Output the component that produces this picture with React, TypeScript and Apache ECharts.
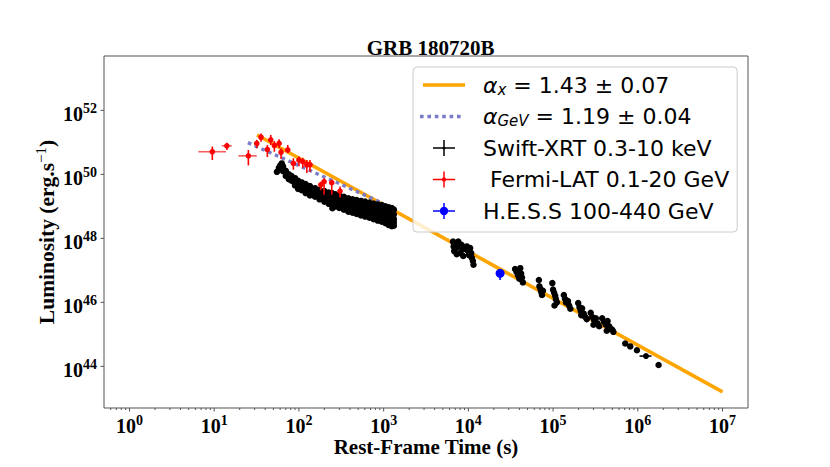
import React, { useEffect, useRef } from 'react';
import * as echarts from 'echarts';

// ---- axis ranges and ticks ----
const X_MIN = 0.5;
const X_MAX = 2e7;
const Y_MIN = 5e42;
const Y_MAX = 5e53;
const X_MAJOR_TICKS = [1, 10, 100, 1e3, 1e4, 1e5, 1e6, 1e7];
const X_MINOR_DECADES = [0.1, 1, 10, 100, 1e3, 1e4, 1e5, 1e6, 1e7];
const X_MINOR_SUBS = [2, 3, 4, 5, 6, 7, 8, 9];
const Y_MAJOR_TICKS = [1e44, 1e46, 1e48, 1e50, 1e52];

// ---- fitted power laws ----
const FIT_X = [[32, 1.7e51], [1e7, 1.6e43]];
const FIT_GEV = [[25, 9.8e50], [950, 1.3e49]];

// ---- Swift-XRT [t, L] ----
const XRT_EARLY = [
  [55, 1.2e50], [58, 1.6e50], [60, 1.9e50], [62.7, 2.2e50], [65, 1.8e50], [65, 1.26e50],
  [70, 1.3e50], [70, 8.9e49], [76, 1.0e50], [76, 7.1e49], [82, 8.9e49], [82, 6.3e49],
  [90, 7.6e49], [90, 5.2e49], [90, 4.5e49], [98, 6.3e49], [98, 4.5e49], [98, 3.5e49],
  [108, 5.6e49], [108, 4.0e49], [108, 3.2e49], [120, 5.0e49], [120, 3.5e49], [120, 2.6e49],
  [135, 4.3e49], [135, 3.0e49], [135, 2.2e49], [155, 3.7e49], [155, 2.6e49], [155, 2.0e49],
  [175, 3.3e49], [175, 2.3e49], [175, 1.66e49], [200, 3.0e49], [200, 2.0e49], [200, 1.4e49],
  [225, 2.7e49], [225, 1.8e49], [225, 1.2e49], [245, 2.6e49], [245, 1.6e49], [245, 1.1e49],
  [248, 8.7e48], [270, 2.4e49], [270, 1.5e49], [270, 1.0e49], [300, 2.2e49], [300, 1.4e49],
  [300, 8.9e48], [340, 2.0e49], [340, 1.26e49], [340, 7.9e48], [384, 1.8e49], [384, 1.12e49],
  [384, 6.8e48], [430, 1.66e49], [430, 1.0e49], [430, 6.3e48], [480, 1.58e49], [480, 9.5e48],
  [480, 5.8e48], [540, 1.48e49], [540, 8.9e48], [540, 5.2e48], [604, 1.41e49], [604, 8.3e48],
  [604, 4.8e48], [680, 1.32e49], [680, 7.6e48], [680, 4.4e48], [760, 1.23e49], [760, 7.1e48],
  [760, 4.0e48], [850, 1.15e49], [850, 6.6e48], [850, 3.6e48], [951, 1.1e49], [951, 6.3e48],
  [951, 3.3e48], [1050, 1.0e49], [1050, 5.6e48], [1050, 3.0e48], [1150, 9.3e48], [1150, 5.0e48],
  [1150, 2.6e48], [1250, 8.9e48], [1250, 4.6e48], [1250, 2.4e48], [1320, 7.9e48], [1320, 4.0e48],
  [1320, 2.5e48],
];
const XRT_EARLY_FILL = [
  [90, 6.3e49], [90, 4.8e49], [98, 5.2e49], [98, 4.0e49], [108, 4.8e49], [108, 3.5e49],
  [120, 4.2e49], [120, 3.0e49], [135, 3.5e49], [135, 2.6e49], [155, 3.2e49], [155, 2.3e49],
  [175, 2.75e49], [175, 1.95e49], [200, 2.45e49], [200, 1.66e49], [225, 2.2e49], [225, 1.45e49],
  [245, 2.0e49], [245, 1.32e49], [270, 1.9e49], [270, 1.23e49], [300, 1.78e49], [300, 1.12e49],
  [340, 1.58e49], [340, 1.0e49], [384, 1.41e49], [384, 8.7e48], [430, 1.29e49], [430, 7.9e48],
  [480, 1.23e49], [480, 7.4e48], [540, 1.15e49], [540, 6.9e48], [604, 1.07e49], [604, 6.3e48],
  [680, 1.0e49], [680, 5.8e48], [760, 9.3e48], [760, 5.2e48], [850, 8.7e48], [850, 4.9e48],
  [951, 8.3e48], [951, 4.6e48], [1050, 7.6e48], [1050, 4.1e48], [1150, 6.9e48], [1150, 3.6e48],
  [1250, 6.3e48], [1250, 3.3e48], [1320, 5.6e48], [1320, 3.2e48],
];
const XRT_LATE = [
  [6600, 7.9e47], [6700, 5.6e47], [6800, 4.0e47], [7000, 7.1e47], [7200, 5.0e47], [7300, 3.2e47],
  [7600, 7.9e47], [7800, 5.6e47], [8000, 3.5e47], [8300, 6.3e47], [8600, 4.5e47], [8700, 2.8e47],
  [9600, 5.6e47], [9900, 4.0e47], [10200, 3.0e47], [10500, 5.0e47], [10800, 3.5e47], [11000, 2.5e47],
  [11300, 2.0e47], [11500, 1.5e47],
  [35600, 1.1e47], [37000, 9e46], [38500, 7e46], [40000, 5.5e46], [41000, 1.17e47], [42000, 8e46],
  [43000, 6e46], [44000, 4.2e46],
  [68000, 5e46], [69000, 3.2e46], [71000, 2.6e46], [72500, 2.1e46], [74000, 1.7e46], [76000, 2.3e46],
  [98000, 4e46], [100000, 2.5e46], [103000, 2.0e46], [106000, 1.6e46], [108000, 1.26e46],
  [111000, 1.0e46], [104000, 8e45],
  [134000, 1.7e46], [138000, 1.3e46], [142000, 1.0e46], [150000, 1.1e46], [155000, 8e45], [160000, 6.3e45],
  [198000, 9.5e45], [205000, 7e45], [212000, 5.5e45], [220000, 6.5e45], [230000, 4.5e45],
  [240000, 3.5e45], [250000, 3.0e45], [215000, 4e45],
  [278000, 4.7e45], [290000, 3.5e45], [305000, 2.8e45], [320000, 3.2e45], [335000, 2.2e45],
  [350000, 1.8e45], [300000, 2.0e45],
  [380000, 3.2e45], [400000, 2.5e45], [420000, 2.0e45], [440000, 2.6e45], [460000, 1.8e45],
  [480000, 1.5e45], [500000, 1.4e45], [515000, 1.2e45], [430000, 1.3e45],
  [711000, 5.2e44], [815000, 4.2e44], [977000, 3.2e44], [1760000, 1.1e44],
];
// [t, L, tLow, tHigh, LLow, LHigh]
const XRT_ERR = [[1.25e6, 2.1e44, 1.05e6, 1.45e6, 1.9e44, 2.3e44]];

// ---- Fermi-LAT [t, L, tLow, tHigh, LLow, LHigh] ----
const LAT = [
  [9.5, 5.1e50, 6.5, 13.8, 2.8e50, 7.4e50],
  [14.1, 7.8e50, 12.3, 16.1, 5.8e50, 9.8e50],
  [25.3, 3.8e50, 19.3, 31.8, 1.9e50, 5.8e50],
  [31.8, 9.3e50, 30, 33.7, 6.6e50, 1.2e51],
  [35.7, 1.45e51, 33.7, 37.8, 1.05e51, 1.9e51],
  [42.4, 6e50, 40, 45, 3.5e50, 8.3e50],
  [46.5, 1.2e51, 44, 49, 8.3e50, 1.7e51],
  [51.3, 8e50, 49, 54, 5.1e50, 1.1e51],
  [58.3, 9.3e50, 55.5, 61, 6.6e50, 1.25e51],
  [61.5, 4.9e50, 59, 64, 3e50, 6.6e50],
  [73.8, 5.8e50, 70, 78, 4.6e50, 8.3e50],
  [86, 2.2e50, 82, 90, 1.4e50, 3.2e50],
  [100, 2.8e50, 95, 105, 1.8e50, 3.6e50],
  [111, 2.5e50, 106, 116, 1.6e50, 3.3e50],
  [124, 2.0e50, 118, 130, 1.1e50, 2.8e50],
  [135, 2.0e50, 129, 141, 1.2e50, 2.8e50],
  [181, 4.7e49, 172, 190, 3.2e49, 5.9e49],
  [198, 5.9e49, 189, 207, 2.3e49, 7.6e49],
  [244, 5.5e49, 232, 256, 2.3e49, 6.8e49],
  [306, 3.0e49, 292, 320, 1.9e49, 4.2e49],
];

// ---- H.E.S.S ----
const HESS = [[23700, 8.1e46, 23000, 24400, 5e46, 8.5e46]];

const SERIF = 'Liberation Serif';
const SANS = 'DejaVu Sans';
const FRAME = '#555555';

const BOX = 'M0,0 M65,24 ';
const ICON_LINE = 'path://' + BOX + 'M10,10.2h42v3.6h-42z';
const ICON_DOTS =
  'path://' + BOX +
  [7, 14.4, 21.8, 29.2, 36.6, 44].map((x) => `M${x},10.2h3.6v3.6h-3.6z`).join(' ');
const crossIcon = (r: number) =>
  'path://' + BOX +
  'M20,11.25h22v1.5h-22z M30.25,4h1.5v16h-1.5z ' +
  `M${31 + r},12a${r},${r} 0 1 1 ${-2 * r},0a${r},${r} 0 1 1 ${2 * r},0z`;

const powLabel = (v: number, evenOnly: boolean) => {
  const e = Math.log10(v);
  const r = Math.round(e);
  if (Math.abs(e - r) > 1e-6) return '';
  if (evenOnly && r % 2 !== 0) return '';
  return `{b|10}{s|${r}}`;
};

const tickRich = {
  b: { fontFamily: SERIF, fontWeight: 'bold', fontSize: 20, lineHeight: 25, fill: '#000', color: '#000' },
  s: { fontFamily: SERIF, fontWeight: 'bold', fontSize: 14, lineHeight: 4, verticalAlign: 'top', fill: '#000', color: '#000' },
};

const errRender = (color: string, hColor: string, r: number) => (params: any, api: any) => {
  const x = api.value(0);
  const y = api.value(1);
  const p = api.coord([x, y]);
  const a = api.coord([api.value(2), y]);
  const b = api.coord([api.value(3), y]);
  const c = api.coord([x, api.value(4)]);
  const d = api.coord([x, api.value(5)]);
  return {
    type: 'group',
    children: [
      { type: 'line', shape: { x1: a[0], y1: a[1], x2: b[0], y2: b[1] }, style: { stroke: hColor, lineWidth: 1.6 } },
      { type: 'line', shape: { x1: c[0], y1: c[1], x2: d[0], y2: d[1] }, style: { stroke: color, lineWidth: 1.6 } },
      { type: 'circle', shape: { cx: p[0], cy: p[1], r }, style: { fill: color } },
    ],
  };
};

export default function App() {
  const ref = useRef<HTMLDivElement>(null);

  useEffect(() => {
    document.body.style.margin = '0';
    if (!ref.current) return;
    const chart = echarts.init(ref.current, undefined, { renderer: 'svg' });

    const tickData: number[][] = [];
    X_MAJOR_TICKS.forEach((v) => tickData.push([v, Y_MIN, 3.5, 0]));
    X_MINOR_DECADES.forEach((d) =>
      X_MINOR_SUBS.forEach((s) => {
        const v = s * d;
        if (v > X_MIN && v < X_MAX) tickData.push([v, Y_MIN, 2, 0]);
      })
    );
    Y_MAJOR_TICKS.forEach((v) => tickData.push([X_MIN, v, 3.5, 1]));

    chart.setOption({
      animation: false,
      backgroundColor: '#ffffff',
      title: {
        text: 'GRB 180720B',
        left: 425.5,
        top: 32,
        textAlign: 'center',
        textStyle: { fontFamily: SERIF, fontWeight: 'bold', fontSize: 21, color: '#000' },
      },
      grid: {
        left: 104,
        right: 82,
        top: 56,
        bottom: 59,
        show: true,
        borderColor: FRAME,
        borderWidth: 1,
        backgroundColor: 'transparent',
      },
      legend: {
        left: 413,
        top: 67,
        orient: 'vertical',
        selectedMode: false,
        itemWidth: 65,
        itemHeight: 24,
        itemGap: 7.5,
        padding: [6, 8, 9, 0],
        backgroundColor: 'rgba(255,255,255,0.8)',
        borderColor: '#cccccc',
        borderWidth: 1,
        borderRadius: 4,
        itemStyle: { borderWidth: 0, opacity: 1 },
        data: [
          { name: 'alphaX', icon: ICON_LINE },
          { name: 'alphaGeV', icon: ICON_DOTS },
          { name: 'Swift-XRT 0.3-10 keV', icon: crossIcon(1.6) },
          { name: 'Fermi-LAT 0.1-20 GeV', icon: crossIcon(2.2) },
          { name: 'H.E.S.S 100-440 GeV', icon: crossIcon(4.2) },
        ],
        formatter: (name: string) => {
          if (name === 'alphaX') return '{g|α}{sub|x}{n| = 1.43 ± 0.07}';
          if (name === 'alphaGeV') return '{g|α}{sub|GeV}{n| = 1.19 ± 0.04}';
          if (name === 'Fermi-LAT 0.1-20 GeV') return '{n|\u00a0Fermi-LAT 0.1-20 GeV}';
          return `{n|${name}}`;
        },
        textStyle: {
          fontFamily: SANS,
          fontSize: 22,
          color: '#000',
          rich: {
            n: { fontFamily: SANS, fontSize: 22, lineHeight: 24, color: '#000' },
            g: { fontFamily: SANS, fontSize: 22, lineHeight: 24, fontStyle: 'italic', color: '#000' },
            sub: { fontFamily: SANS, fontSize: 15, lineHeight: 12, fontStyle: 'italic', verticalAlign: 'bottom', color: '#000' },
          },
        },
      },
      xAxis: {
        type: 'log',
        logBase: 10,
        min: X_MIN,
        max: X_MAX,
        splitNumber: 7,
        name: 'Rest-Frame Time (s)',
        nameLocation: 'middle',
        nameGap: 28,
        nameMoveOverlap: false,
        nameTextStyle: { fontFamily: SERIF, fontWeight: 'bold', fontSize: 21, color: '#000' },
        axisLine: { show: false },
        axisTick: { show: false },
        splitLine: { show: false },
        minorTick: { show: false },
        axisLabel: {
          margin: 5,
          formatter: (v: number) => powLabel(v, false),
          rich: tickRich,
          showMinLabel: false,
          showMaxLabel: false,
        },
      },
      yAxis: {
        type: 'log',
        logBase: 10,
        min: Y_MIN,
        max: Y_MAX,
        name: '{a|Luminosity (erg.s}{s|−1}{a|)}',
        nameLocation: 'middle',
        nameRotate: 90,
        nameGap: 43,
        nameMoveOverlap: false,
        nameTextStyle: {
          rich: {
            a: { fontFamily: SERIF, fontWeight: 'bold', fontSize: 21.5, lineHeight: 28, color: '#000' },
            s: { fontFamily: SERIF, fontSize: 15, lineHeight: 12, verticalAlign: 'top', color: '#000' },
          },
        },
        axisLine: { show: false },
        axisTick: { show: false },
        splitLine: { show: false },
        minorTick: { show: false },
        axisLabel: { show: false },
      },
      series: [
        {
          type: 'line',
          name: 'alphaX',
          data: FIT_X,
          color: '#FFA500',
          symbol: 'none',
          lineStyle: { width: 3.6, color: '#FFA500' },
          z: 2,
        },
        {
          type: 'line',
          name: 'alphaGeV',
          data: FIT_GEV,
          color: '#7b7bc9',
          symbol: 'none',
          lineStyle: { width: 3.4, color: '#7b7bc9', type: [3.6, 3.8] },
          z: 2,
        },
        {
          type: 'scatter',
          name: 'Swift-XRT 0.3-10 keV',
          data: XRT_EARLY.concat(XRT_EARLY_FILL, XRT_LATE),
          symbolSize: 6.5,
          itemStyle: { color: '#000', opacity: 1 },
          z: 3,
        },
        {
          type: 'custom',
          name: 'xrt-err',
          data: XRT_ERR,
          itemStyle: { color: '#000' },
          renderItem: errRender('#000', '#000', 3),
          clip: false,
          z: 3,
        },
        {
          type: 'custom',
          name: 'Fermi-LAT 0.1-20 GeV',
          data: LAT,
          itemStyle: { color: '#ff0000' },
          renderItem: errRender('#ff0000', 'rgba(240,40,40,0.75)', 2.8),
          clip: false,
          z: 4,
        },
        {
          type: 'custom',
          name: 'H.E.S.S 100-440 GeV',
          data: HESS,
          itemStyle: { color: '#0000ff' },
          renderItem: errRender('#0000ff', '#0000ff', 4.5),
          clip: false,
          z: 4,
        },
        {
          type: 'custom',
          name: 'ticks',
          data: tickData,
          silent: true,
          clip: false,
          z: 1,
          renderItem: (params: any, api: any) => {
            const p = api.coord([api.value(0), api.value(1)]);
            const len = api.value(2);
            const side = api.value(3);
            if (side === 0) {
              return {
                type: 'line',
                shape: { x1: p[0], y1: p[1], x2: p[0], y2: p[1] + len },
                style: { stroke: FRAME, lineWidth: 1 },
              };
            }
            return {
              type: 'group',
              children: [
                {
                  type: 'line',
                  shape: { x1: p[0] - len, y1: p[1], x2: p[0], y2: p[1] },
                  style: { stroke: FRAME, lineWidth: 1 },
                },
                {
                  type: 'text',
                  style: {
                    text: powLabel(api.value(1), true),
                    rich: tickRich,
                    x: p[0] - 7,
                    y: p[1] + 3.5,
                    align: 'right',
                    verticalAlign: 'middle',
                    fill: '#000',
                  },
                },
              ],
            };
          },
        },
      ],
    });

    return () => chart.dispose();
  }, []);

  return <div ref={ref} style={{ width: 830, height: 467 }} />;
}
